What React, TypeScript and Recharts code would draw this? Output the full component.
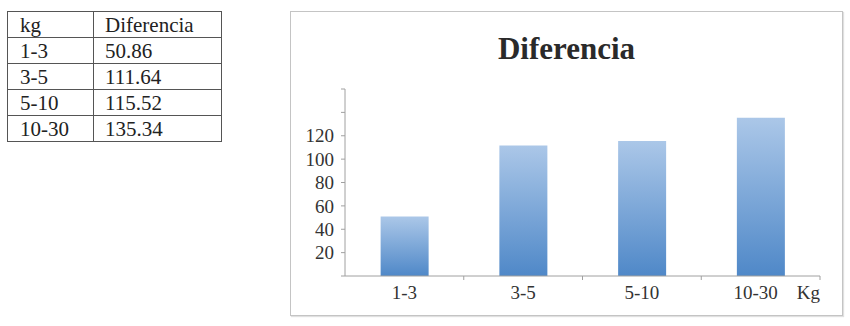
import { BarChart, Bar, XAxis, YAxis } from 'recharts';

const categories = ['1-3', '3-5', '5-10', '10-30'];
const diferencia = [50.86, 111.64, 115.52, 135.34];
const yTicks = [0, 20, 40, 60, 80, 100, 120, 140, 160];
const hiddenTicks = [0, 140, 160];

const data = categories.map((kg, i) => ({ kg, value: diferencia[i] }));

const CHART_W = 551;
const CHART_H = 303;
const MARGIN = { top: 77, right: 22, left: 0, bottom: 9 };
const Y_WIDTH = 54;
const HALF_BAND = (CHART_W - Y_WIDTH - MARGIN.right) / categories.length / 2;

const serif = '"Liberation Serif", "DejaVu Serif", serif';

function XTick(props: any) {
  const { x, y, payload, index } = props;
  const last = index === categories.length - 1;
  return (
    <g>
      <line x1={x + HALF_BAND} y1={y} x2={x + HALF_BAND} y2={y + 4} stroke="#a0a0a0" />
      <text x={last ? x - 5 : x} y={y + 23} textAnchor="middle" fontSize={19} fontFamily={serif} fill="#333">
        {payload.value}
      </text>
      {last && (
        <text x={x + HALF_BAND} y={y + 23} textAnchor="end" fontSize={19} fontFamily={serif} fill="#333">
          Kg
        </text>
      )}
    </g>
  );
}

const cell = { border: '1px solid #555', height: 25, lineHeight: '24px', padding: 0 };

export default function App() {
  return (
    <div style={{ position: 'absolute', left: 0, top: 0, width: 850, height: 326, background: '#fff' }}>
      <table
        style={{
          position: 'absolute',
          left: 7,
          top: 11,
          borderCollapse: 'collapse',
          fontFamily: serif,
          fontSize: 21,
          color: '#222',
        }}
      >
        <tbody>
          <tr>
            <td style={{ ...cell, width: 73, paddingLeft: 12 }}>kg</td>
            <td style={{ ...cell, width: 116, paddingLeft: 11 }}>Diferencia</td>
          </tr>
          {categories.map((kg, i) => (
            <tr key={kg}>
              <td style={{ ...cell, paddingLeft: 12 }}>{kg}</td>
              <td style={{ ...cell, paddingLeft: 11 }}>{diferencia[i].toFixed(2)}</td>
            </tr>
          ))}
        </tbody>
      </table>

      <div
        style={{
          position: 'absolute',
          left: 290,
          top: 11,
          width: CHART_W + 2,
          height: CHART_H + 2,
          boxSizing: 'border-box',
          border: '1px solid #c4c4c4',
          boxShadow: '1px 1px 1px #e0e0e0',
        }}
      >
        <div
          style={{
            position: 'absolute',
            left: 0,
            top: 21,
            width: CHART_W,
            textAlign: 'center',
            fontFamily: serif,
            fontWeight: 'bold',
            fontSize: 31,
            lineHeight: '31px',
            color: '#2a2a2a',
          }}
        >
          Diferencia
        </div>
        <BarChart width={CHART_W} height={CHART_H} data={data} margin={MARGIN} barCategoryGap="30%">
          <defs>
            <linearGradient id="barGrad" x1="0" y1="0" x2="0" y2="1">
              <stop offset="0%" stopColor="#abc7e8" />
              <stop offset="100%" stopColor="#4f88c8" />
            </linearGradient>
          </defs>
          <XAxis
            dataKey="kg"
            height={30}
            axisLine={{ stroke: '#a0a0a0' }}
            tickLine={false}
            tickSize={0}
            tickMargin={0}
            tick={<XTick />}
            interval={0}
          />
          <YAxis
            width={Y_WIDTH}
            domain={[0, 160]}
            ticks={yTicks}
            interval={0}
            axisLine={{ stroke: '#a0a0a0' }}
            tickLine={{ stroke: '#a0a0a0' }}
            tickSize={4}
            tickMargin={7}
            tick={{ fontSize: 19, fontFamily: serif, fill: '#333' }}
            tickFormatter={(v: number) => (hiddenTicks.includes(v) ? '' : String(v))}
          />
          <Bar dataKey="value" fill="url(#barGrad)" isAnimationActive={false} />
        </BarChart>
      </div>
    </div>
  );
}
